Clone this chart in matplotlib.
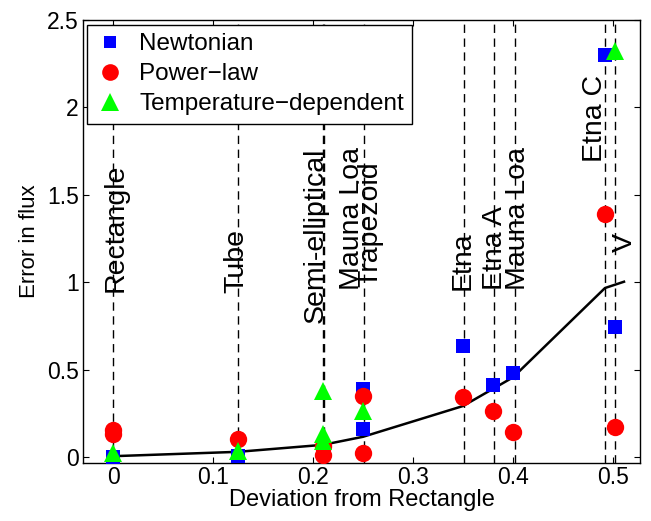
import matplotlib
matplotlib.use("Agg")
import matplotlib.pyplot as plt
from matplotlib.lines import Line2D

plt.rcParams['font.family'] = ['Liberation Sans', 'DejaVu Sans']

# ---- data ----
newt_x = [0.0, 0.125, 0.25, 0.25, 0.35, 0.38, 0.40, 0.492, 0.502]
newt_y = [0.0, 0.005, 0.39, 0.16, 0.635, 0.41, 0.48, 2.30, 0.744]

pow_x = [0.0, 0.0, 0.125, 0.21, 0.21, 0.25, 0.25, 0.35, 0.38, 0.40, 0.492, 0.502]
pow_y = [0.155, 0.13, 0.103, 0.065, 0.01, 0.35, 0.025, 0.343, 0.263, 0.143, 1.39, 0.172]

temp_x = [0.0, 0.125, 0.21, 0.21, 0.21, 0.25, 0.502]
temp_y = [0.023, 0.035, 0.38, 0.09, 0.133, 0.266, 2.32]

curve_x = [0.0, 0.125, 0.21, 0.25, 0.35, 0.40, 0.492, 0.511]
curve_y = [0.005, 0.03, 0.07, 0.116, 0.292, 0.456, 0.967, 1.003]

vline_x = [0.0, 0.125, 0.2095, 0.2105, 0.251, 0.351, 0.381, 0.402, 0.492, 0.502]

shape_names = ["Rectangle", "Tube", "Semi-elliptical", "Mauna Loa", "Trapezoid",
               "Etna", "Etna A", "Mauna Loa", "Etna C", "V"]
name_x = [0.010, 0.130, 0.210, 0.246, 0.264, 0.357, 0.389, 0.412, 0.489, 0.519]
name_y = [0.944, 0.938, 0.767, 0.955, 0.973, 0.955, 0.955, 0.955, 1.688, 1.173]

series_names = ["Newtonian", "Power\u2212law", "Temperature\u2212dependent"]

xticks = [0, 0.1, 0.2, 0.3, 0.4, 0.5]
xticklabels = ["0", "0.1", "0.2", "0.3", "0.4", "0.5"]
yticks = [0, 0.5, 1, 1.5, 2, 2.5]
yticklabels = ["0", "0.5", "1", "1.5", "2", "2.5"]

# ---- figure ----
fig = plt.figure(figsize=(6.51, 5.21), dpi=100)
ax = fig.add_axes([0.1275, 0.1113, 0.9831 - 0.1275, 0.9616 - 0.1113])

for xv in vline_x:
    ax.axvline(xv, color='black', lw=1.0, linestyle=(0, (6, 4)), zorder=1)

ax.plot(curve_x, curve_y, color='black', lw=1.8, zorder=2)

ax.plot(newt_x, newt_y, linestyle='none', marker='s', color=(0, 0, 1),
        markersize=9.5, markeredgewidth=0, zorder=3)
ax.plot(pow_x, pow_y, linestyle='none', marker='o', color=(1, 0, 0),
        markersize=12.5, markeredgewidth=0, zorder=4)
ax.plot(temp_x, temp_y, linestyle='none', marker='^', color=(0, 1, 0),
        markersize=12.5, markeredgewidth=0, zorder=5)

for name, tx, ty in zip(shape_names, name_x, name_y):
    ax.text(tx, ty, name, rotation=90, rotation_mode='anchor', ha='left',
            va='baseline', fontsize=20.5, color='black', zorder=6)

ax.set_xlim(-0.03, 0.527)
ax.set_ylim(-0.034, 2.5)
ax.set_xticks(xticks)
ax.set_xticklabels(xticklabels)
ax.set_yticks(yticks)
ax.set_yticklabels(yticklabels)
ax.tick_params(direction='in', length=4, width=0.8, top=True, right=True,
               labelsize=16.5)
ax.tick_params(axis='x', pad=2)
ax.tick_params(axis='y', pad=3)
for sp in ax.spines.values():
    sp.set_linewidth(1.0)

ax.set_xlabel("Deviation from Rectangle", fontsize=17, labelpad=0)
ax.set_ylabel("Error in flux", fontsize=16, labelpad=5)

handles = [
    Line2D([], [], linestyle='none', marker='s', color=(0, 0, 1), markersize=9, markeredgewidth=0),
    Line2D([], [], linestyle='none', marker='o', color=(1, 0, 0), markersize=12, markeredgewidth=0),
    Line2D([], [], linestyle='none', marker='^', color=(0, 1, 0), markersize=13, markeredgewidth=0),
]
leg = ax.legend(handles, series_names, loc='upper left', bbox_to_anchor=(0.007, 0.989),
                borderaxespad=0, fancybox=False, framealpha=1, edgecolor='black',
                fontsize=17.5, handlelength=1.2, handletextpad=0.6, labelspacing=0.33,
                borderpad=0.35)
leg.get_frame().set_linewidth(1.0)

fig.savefig("out.png", dpi=100)
